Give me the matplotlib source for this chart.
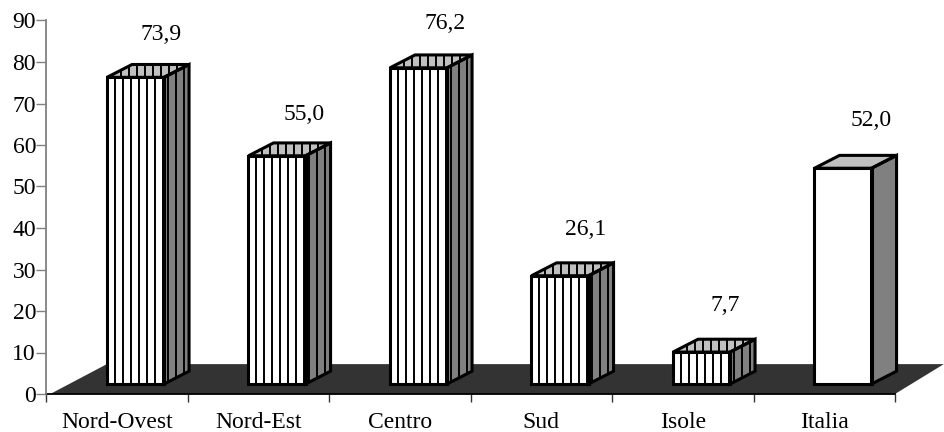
import matplotlib
matplotlib.use('Agg')
import numpy as np
import matplotlib.pyplot as plt
from matplotlib.patches import Polygon

plt.rcParams['font.family'] = ['Liberation Serif', 'DejaVu Serif']

regions = ['Nord-Ovest', 'Nord-Est', 'Centro', 'Sud', 'Isole', 'Italia']
values = [73.9, 55.0, 76.2, 26.1, 7.7, 52.0]
value_labels = ['73,9', '55,0', '76,2', '26,1', '7,7', '52,0']
striped = [True, True, True, True, True, False]
y_ticks = list(range(0, 100, 10))

# small nudges for the value labels
label_dx = [0, 0.014, 0.007, 0, -0.014, 0.02]
label_dy = [-0.5, -1, -0.25, 0.25, 0.25, 0.5]

# projection of the fake 3d box, in data units
bar_w = 0.403
bar_off = 0.431
depth_x = 0.177
depth_y = 3.1
base_y = 2.4
stripe_step = 0.0565

fig = plt.figure(figsize=(9.44, 4.32), dpi=100)
ax = fig.add_axes([46/944, (432-394)/432, (895-46)/944, (394-20.5)/432])
ax.set_xlim(0, 6)
ax.set_ylim(0, 90)
ax.patch.set_alpha(0)

# dark floor
floor = Polygon([(0.03, 0), (6, 0), (6.345, 7.2), (0.43, 7.2)], closed=True,
                fc='#333333', ec='none', clip_on=False, zorder=1)
ax.add_patch(floor)
ax.plot([0, 6], [0, 0], color='black', lw=1.3, clip_on=False, zorder=2)


def stripes(poly, x0, x1):
    for sx in np.arange(x0 + stripe_step, x1, stripe_step):
        ln, = ax.plot([sx, sx], [0, 95], color='black', lw=1.4, zorder=4, clip_on=True)
        ln.set_clip_path(poly)


for i, v in enumerate(values):
    x0 = i + bar_off
    x1 = x0 + bar_w
    y0 = base_y
    y1 = base_y + v
    front = [(x0, y0), (x1, y0), (x1, y1), (x0, y1)]
    side = [(x1, y0), (x1 + depth_x, y0 + depth_y), (x1 + depth_x, y1 + depth_y), (x1, y1)]
    top = [(x0, y1), (x1, y1), (x1 + depth_x, y1 + depth_y), (x0 + depth_x, y1 + depth_y)]
    p_side = ax.add_patch(Polygon(side, fc='#808080', ec='none', zorder=3, clip_on=False))
    p_top = ax.add_patch(Polygon(top, fc='#c0c0c0', ec='none', zorder=3, clip_on=False))
    p_front = ax.add_patch(Polygon(front, fc='white', ec='none', zorder=3, clip_on=False))
    if striped[i]:
        stripes(p_front, x0, x1)
        stripes(p_side, x1 - 0.03, x1 + depth_x)
        stripes(p_top, x0 + 0.04, x1 + depth_x)
    for pts in (side, top, front):
        ax.add_patch(Polygon(pts, fc='none', ec='black', lw=2.2, joinstyle='miter',
                             zorder=5, clip_on=False))
    ax.text(x0 + 0.38 + label_dx[i], y1 + 10.9 + label_dy[i], value_labels[i],
            ha='center', va='center', fontsize=17, color='black')

for s in ['top', 'right', 'bottom']:
    ax.spines[s].set_visible(False)
ax.spines['left'].set_color('#808080')
ax.spines['left'].set_linewidth(1.3)

ax.set_yticks(y_ticks)
ax.set_yticklabels([str(t) for t in y_ticks], fontsize=17)
ax.tick_params(axis='y', length=7, width=1, color='#808080', pad=0.2)
ax.set_xticks(range(0, 7))
ax.set_xticklabels([])
ax.tick_params(axis='x', length=6, width=1, color='#333333', direction='out')

for i, name in enumerate(regions):
    ax.text(i + 0.5, -6.75, name, ha='center', va='center', fontsize=17, clip_on=False)

fig.savefig('out.png', dpi=100)
